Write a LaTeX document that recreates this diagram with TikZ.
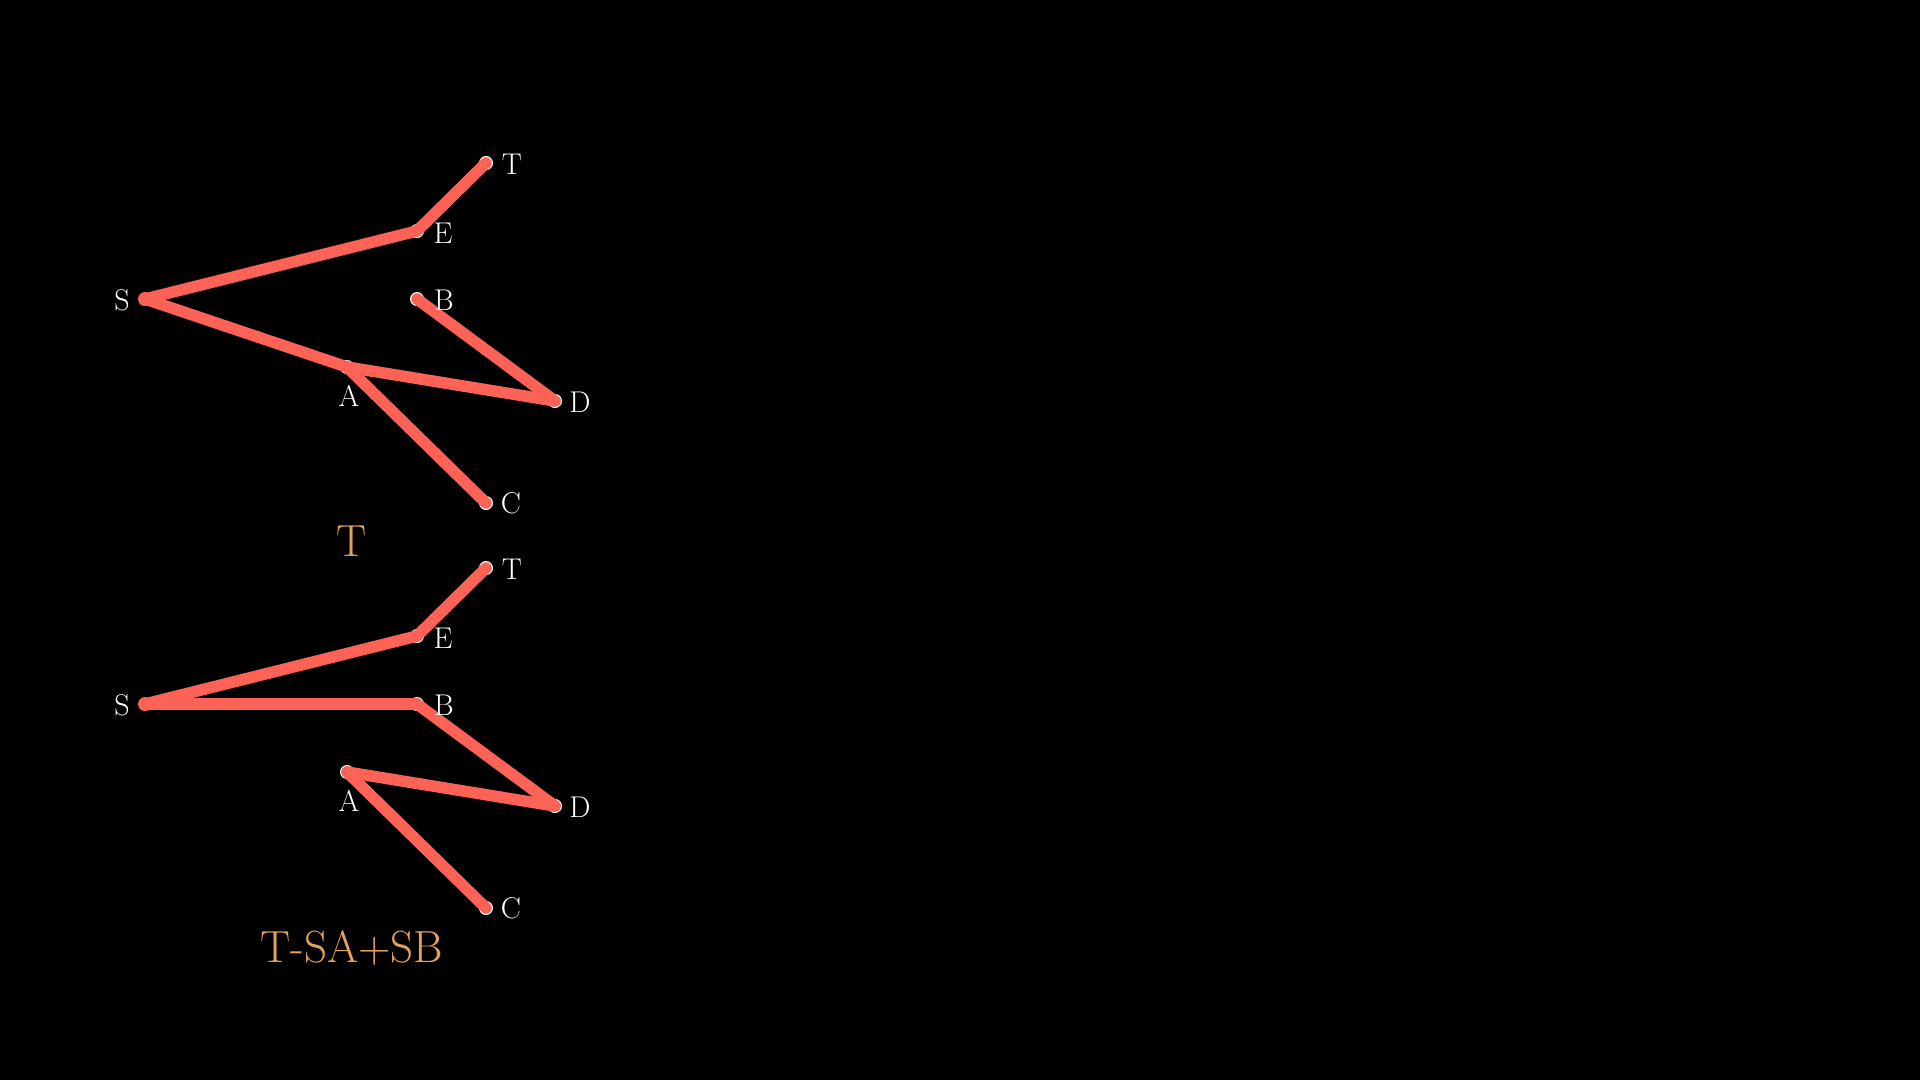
\documentclass[tikz,border=0pt]{standalone}
\usepackage{fontspec}
\definecolor{edgered}{HTML}{FC6255}
\definecolor{labgold}{HTML}{E6A15C}
\begin{document}
\begin{tikzpicture}[x=1pt,y=-1pt,
  edge/.style={draw=edgered,line width=11.5pt,line cap=round},
  vdot/.style={circle,fill=white,inner sep=0pt,minimum size=14pt},
  sdot/.style={circle,fill=edgered,inner sep=0pt,minimum size=14pt},
  vlab/.style={text=white,inner sep=0pt,font=\fontsize{30}{35}\selectfont},
  captext/.style={text=labgold,inner sep=0pt,font=\fontsize{45}{52}\selectfont}]
\fill[black] (0,0) rectangle (1920,1080);
\useasboundingbox (0,0) rectangle (1920,1080);
% ---- top graph ----
\node[sdot] (S1) at (145,299) {};
\node[vdot] (E1) at (417,231) {};
\node[vdot] (T1) at (486,163) {};
\node[vdot] (B1) at (417,299) {};
\node[vdot] (A1) at (347,367) {};
\node[vdot] (D1) at (555,401) {};
\node[vdot] (C1) at (486,503) {};
\draw[edge] (S1.center) -- (E1.center);
\draw[edge] (E1.center) -- (T1.center);
\draw[edge] (S1.center) -- (A1.center);
\draw[edge] (A1.center) -- (D1.center);
\draw[edge] (D1.center) -- (B1.center);
\draw[edge] (A1.center) -- (C1.center);
\node[vlab] (lS1) at (122,300) {S};
\node[vlab] (lE1) at (443,233) {E};
\node[vlab] (lT1) at (512,164) {T};
\node[vlab] (lB1) at (444,300) {B};
\node[vlab] (lA1) at (349,396) {A};
\node[vlab] (lD1) at (580,402) {D};
\node[vlab] (lC1) at (511,503) {C};
\node[captext] (cap1) at (352,541) {T};
% ---- bottom graph ----
\node[sdot] (S2) at (145,704) {};
\node[vdot] (E2) at (417,636) {};
\node[vdot] (T2) at (486,568) {};
\node[vdot] (B2) at (417,704) {};
\node[vdot] (A2) at (347,772) {};
\node[vdot] (D2) at (555,806) {};
\node[vdot] (C2) at (486,908) {};
\draw[edge] (S2.center) -- (E2.center);
\draw[edge] (E2.center) -- (T2.center);
\draw[edge] (S2.center) -- (B2.center);
\draw[edge] (B2.center) -- (D2.center);
\draw[edge] (D2.center) -- (A2.center);
\draw[edge] (A2.center) -- (C2.center);
\node[vlab] (lS2) at (122,705) {S};
\node[vlab] (lE2) at (443,638) {E};
\node[vlab] (lT2) at (512,569) {T};
\node[vlab] (lB2) at (444,705) {B};
\node[vlab] (lA2) at (349,801) {A};
\node[vlab] (lD2) at (580,807) {D};
\node[vlab] (lC2) at (511,908) {C};
\node[captext] (cap2) at (352,948) {T-SA+SB};
\end{tikzpicture}
\end{document}
